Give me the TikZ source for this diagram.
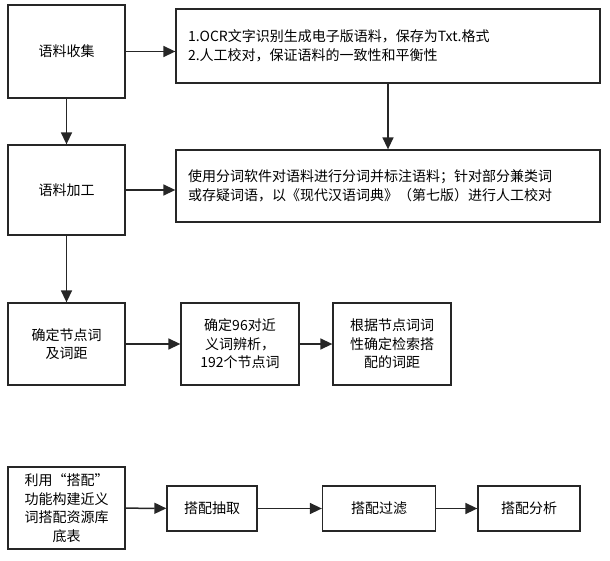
\documentclass[tikz,border=0pt]{standalone}
\usepackage{fontspec}
\setmainfont{Noto Sans CJK SC}
\usetikzlibrary{arrows.meta}
\begin{document}
\begin{tikzpicture}[x=1pt,y=-1pt,
 box/.style={draw=black!85,line width=1.3pt,inner sep=0pt,align=center,font=\fontsize{14}{18.5}\selectfont},
 arr/.style={-{Triangle[length=12pt,width=11pt]},line width=1.5pt,black!85}]
\useasboundingbox (0,0) rectangle (610,561);
\node[box,minimum width=117,minimum height=93] (a) at (66.5,51.5) {语料收集};
\node[box,minimum width=424,minimum height=74,align=left,text width=400] (b) at (388,46) {1.OCR文字识别生成电子版语料，保存为Txt.格式\\2.人工校对，保证语料的一致性和平衡性};
\node[box,minimum width=117,minimum height=90] (c) at (66.5,190) {语料加工};
\node[box,minimum width=424,minimum height=72,align=left,text width=400] (d) at (388,186) {使用分词软件对语料进行分词并标注语料；针对部分兼类词\\或存疑词语，以《现代汉语词典》（第七版）进行人工校对};
\node[box,minimum width=117,minimum height=82] (e) at (66.5,344) {确定节点词\\及词距};
\node[box,minimum width=118,minimum height=82] (f) at (240,344) {确定96对近\\义词辨析，\\192个节点词};
\node[box,minimum width=118,minimum height=82] (g) at (392,344) {根据节点词词\\性确定检索搭\\配的词距};
\node[box,minimum width=117,minimum height=82] (h) at (66.5,508) {利用“搭配”\\功能构建近义\\词搭配资源库\\底表};
\node[box,minimum width=90,minimum height=45] (i) at (212,508.5) {搭配抽取};
\node[box,minimum width=113,minimum height=45] (j) at (379,508.5) {搭配过滤};
\node[box,minimum width=102,minimum height=45] (k) at (529,508.5) {搭配分析};
\draw[arr] (a.east) -- (a.east -| b.west);
\draw[arr] (a) -- (c);
\draw[arr] (b) -- (d);
\draw[arr] (c.east) -- (c.east -| d.west);
\draw[arr] (c) -- (e);
\draw[arr] (e) -- (f);
\draw[arr] (f) -- (g);
\draw[arr] (h) -- (i);
\draw[arr] (i) -- (j);
\draw[arr] (j) -- (k);
\end{tikzpicture}
\end{document}
